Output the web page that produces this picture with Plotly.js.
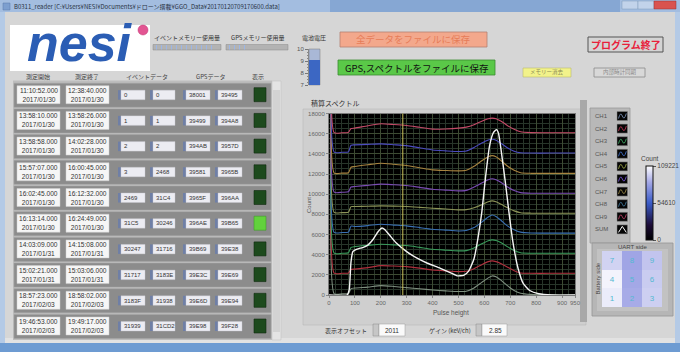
<!DOCTYPE html>
<html><head><meta charset="utf-8">
<script src="https://cdn.plot.ly/plotly-3.0.1.min.js"></script>
<style>html,body{margin:0;padding:0;background:#d6d6d6;overflow:hidden}#chart{width:680px;height:352px}</style>
</head><body><div id="chart"></div>
<script>
// ---------------- DATA ----------------
const channelNames = ['CH1','CH2','CH3','CH4','CH5','CH6','CH7','CH8','CH9'];
const sumName = 'SUM';
const channelX = [0,12,20,50,75,85,100,150,200,250,300,350,400,450,500,530,560,590,615,630,645,665,690,715,740,780,850,950];
const ch1 = [40000,40000,120,110,150,620,700,780,930,850,730,620,500,410,340,380,700,1250,1700,1890,1800,1450,900,450,180,60,10,0];
const ch2 = [40000,40000,150,140,180,520,560,700,900,860,800,650,470,380,310,340,600,1000,1300,1370,1300,1100,750,400,170,140,140,140];
const ch3 = [40000,40000,130,120,160,700,780,900,1010,950,880,700,510,420,350,380,650,1050,1350,1440,1380,1150,750,400,160,120,120,120];
const ch4 = [40000,40000,170,160,200,800,760,850,990,900,820,650,490,400,320,360,650,1200,1700,1900,1750,1350,800,450,200,120,100,100];
const ch5 = [40000,40000,140,130,160,720,730,760,790,770,730,650,560,480,400,420,600,900,1200,1290,1200,950,600,300,120,70,60,60];
const ch6 = [40000,40000,150,140,180,650,700,820,940,880,800,620,440,350,270,320,650,1050,1380,1470,1380,1100,650,300,100,40,40,40];
const ch7 = [40000,40000,30,20,60,600,680,850,1000,900,770,550,340,280,240,300,700,1250,1650,1760,1650,1250,700,300,60,0,0,0];
const ch8 = [40000,40000,90,80,120,780,810,860,910,830,740,520,310,220,150,200,550,1000,1300,1370,1280,950,500,180,30,0,0,0];
const ch9 = [40000,40000,10,0,40,420,460,700,890,820,720,540,360,380,460,560,800,1150,1400,1450,1400,1150,700,350,100,20,0,0];
const sumX = [0,70,78,85,92,100,115,130,150,170,190,205,215,235,260,300,340,380,430,470,495,520,540,560,575,590,605,620,635,647,655,665,680,695,710,730,750,775,810,860,950];
const sumY = [0,0,500,3300,4300,4450,4600,4700,4950,5500,6300,6650,6500,5900,5150,4300,3650,3150,2650,2200,1900,1950,2400,3600,5600,8200,11800,14800,16100,16400,16000,14300,11400,8200,5300,2650,1150,450,120,0,0];
const displayOffset = 2011;
const gainKeVperCh = 2.85;
const cursorX = 285;
const xTickVals = [0,100,200,300,400,500,600,700,800,900,950];
const yTickVals = [0,2000,4000,6000,8000,10000,12000,14000,16000,18000];

const heatZ = [[104000,86000,96000],[106000,85000,95000],[97000,84000,93000]];
const heatText = [['1','2','3'],['4','5','6'],['7','8','9']];
const colorbarTicks = [0,54610,109221];
const heatTitleTop = 'UART side';
const heatTitleSide = 'Battery side';

const batteryVoltage = 9.05;
const batteryTicks = [7,8,9,10];
const eventMemUsage = 89;
const gpsMemUsage = 30;

const tableHeaders = ['測定開始','測定終了','イベントデータ','GPSデータ','表示'];
const startTimes = ['11:10:52.000','13:58:10.000','13:58:58.000','15:57:07.000','16:02:45.000','16:13:14.000','14:03:09.000','15:02:21.000','18:57:23.000','19:46:53.000'];
const startDates = ['2017/01/30','2017/01/30','2017/01/30','2017/01/30','2017/01/30','2017/01/30','2017/01/31','2017/01/31','2017/02/03','2017/02/03'];
const endTimes = ['12:38:40.000','13:58:26.000','14:02:28.000','16:00:45.000','16:12:32.000','16:24:49.000','14:15:08.000','15:03:06.000','18:58:02.000','19:49:17.000'];
const endDates = ['2017/01/30','2017/01/30','2017/01/30','2017/01/30','2017/01/30','2017/01/30','2017/01/31','2017/01/31','2017/02/03','2017/02/03'];
const eventStart = ['0','1','2','3','2469','31C5','30247','31717','3183F','31939'];
const eventEnd = ['0','1','2','2468','31C4','30246','31716','3183E','31938','31CD2'];
const gpsStart = ['38001','39499','394AB','39581','3965F','396AE','39B69','39E3C','39E6D','39E98'];
const gpsEnd = ['39495','394A8','3957D','3965B','396AA','39B65','39E38','39E69','39E94','39F28'];
const ledOn = [0,0,0,0,0,1,0,0,0,0];

const windowTitle = 'B0311_reader [C:¥Users¥NESI¥Documents¥ドローン搭載¥GGO_Data¥20170120709170600.data]';

// ---------------- HELPERS ----------------
const W = 680, H = 352;
const X = p => p / W;
const Y = p => 1 - p / H;
const FJ = 'Noto Sans CJK JP, DejaVu Sans, sans-serif';
const FL = 'Liberation Sans, Arial, sans-serif';
const shapes = [];
const ann = [];
function R(x0, y0, x1, y1, fill, line, lw, layer) {
  shapes.push({type:'rect', xref:'paper', yref:'paper', x0:X(x0), x1:X(x1), y0:Y(y1), y1:Y(y0),
    fillcolor:fill, line:{color:line || fill, width: line ? (lw || 1) : 0}, layer: layer || 'below'});
}
function T(x, y, s, o) {
  o = o || {};
  ann.push(Object.assign({xref:'paper', yref:'paper', x:X(x), y:Y(y), text:s, showarrow:false,
    xanchor:o.xa || 'center', yanchor:o.ya || 'middle', borderpad:0,
    font:{family:o.f || FJ, size:o.sz || 7, color:o.c || '#333'}}, o.extra || {}));
}
function P(pts) {
  return pts.map(p => X(p[0]).toFixed(5) + ',' + Y(p[1]).toFixed(5)).join(' ');
}

// ---------------- WINDOW CHROME ----------------
R(0, 0, 680, 12, '#a3bde0');
R(330, 0, 620, 12, '#86a7d3');
R(0, 12, 5, 352, '#b4cae6');
R(675, 12, 680, 352, '#b4cae6');
R(3, 3, 10, 10, '#7d9fcf', '#5a7aa8', 0.5);
T(13, 6, windowTitle, {xa:'left', sz:6, c:'#2a3344'});
R(622, 1, 638, 9, '#c2d3ea', '#7f98bb', 0.5);
R(638, 1, 654, 9, '#c2d3ea', '#7f98bb', 0.5);
R(654, 1, 676, 9, '#d9534f', '#9a3030', 0.5);
R(0, 343, 680, 352, '#6d9bd2');
R(5, 338, 675, 343, '#e2e2e2');

// ---------------- LOGO ----------------
R(10, 25, 150, 71, '#ffffff');
T(80, 42.5, '<b><i>nesi</i></b>', {f:FL, sz:52, c:'#2b5db4'});
shapes.push({type:'circle', xref:'paper', yref:'paper', x0:X(138), x1:X(148), y0:Y(35), y1:Y(25),
  fillcolor:'#e25592', line:{color:'#c03070', width:0.5}, layer:'above'});

// ---------------- MEMORY / BATTERY ----------------
T(187, 38, 'イベントメモリー使用量', {sz:6});
T(257, 38, 'GPSメモリー使用量', {sz:6});
T(314, 38, '電池電圧', {sz:6});
R(153, 44.5, 221, 50, '#b3b3b3', '#8a8a8a', 0.5);
R(226, 44.5, 288, 50, '#b3b3b3', '#8a8a8a', 0.5);
R(309, 49, 320, 85, '#a9b8d6', '#7a7a7a', 0.5);

// ---------------- BUTTONS ----------------
R(340, 32, 487, 47, '#f3a88c', '#b48272', 0.8);
T(413.5, 39.5, '全データをファイルに保存', {sz:9.5, c:'#e67c58'});
R(338, 60, 495, 75, '#5ac848', '#3a8a30', 0.8);
T(416.5, 67.5, 'GPS,スペクトルをファイルに保存', {sz:9.5, c:'#111'});
R(588, 37, 663, 52, '#d4d4d4', '#555555', 1);
T(625.5, 44.5, '<b>プログラム終了</b>', {sz:10, c:'#e8203a'});
R(523, 68, 571, 77, '#f2f28a', '#b8b870', 0.6);
T(547, 72.5, 'メモリー消去', {sz:5.5, c:'#8a8a55'});
R(594, 68, 645, 77, '#d8d8d8', '#8a8a8a', 0.8);
T(619.5, 72.5, '内部時計同期', {sz:5.5, c:'#8a8a8a'});

// ---------------- TABLE ----------------
const headerX = [38, 87, 147, 210, 258];
tableHeaders.forEach((h, i) => T(headerX[i], 76.5, h, {sz:6, c:'#444'}));
R(13, 80.5, 272, 340, '#bdbdbd');
R(272, 81, 281, 340, '#e4e4e4', '#bdbdbd', 0.5);
R(273, 90, 280, 332, '#d3d3d3');
for (let k = 0; k < startTimes.length; k++) {
  const t = 82.7 + k * 25.7;
  R(14, t + 0.5, 271, t + 24.5, '#8c8c8c', '#a6a6a6', 0.5);
  R(17, t + 3, 60, t + 21, '#f6f6f6', '#cfcfcf', 0.5);
  R(66, t + 3, 109, t + 21, '#f6f6f6', '#cfcfcf', 0.5);
  T(38.5, t + 12, startTimes[k] + '<br>' + startDates[k], {f:FL, sz:6.6, c:'#333'});
  T(87.5, t + 12, endTimes[k] + '<br>' + endDates[k], {f:FL, sz:6.6, c:'#333'});
  const boxes = [[118, 145, eventStart[k]], [150, 175, eventEnd[k]], [183, 210, gpsStart[k]], [215, 242, gpsEnd[k]]];
  boxes.forEach(b => {
    R(b[0], t + 7.5, b[0] + 3, t + 17, '#6f7fa6');
    R(b[0] + 3, t + 7.5, b[1], t + 17, '#ececf2', '#c8c8d0', 0.4);
    T(b[0] + 5, t + 12.3, b[2], {f:FL, sz:6, c:'#333', xa:'left'});
  });
  R(254, t + 5, 266, t + 19, ledOn[k] ? '#62d23c' : '#1d4a1d', ledOn[k] ? '#3f9a2a' : '#0f2a0f', 0.6);
}

// ---------------- CHART PANEL ----------------
R(303, 109, 586, 325, '#cfcfcf', '#b0b0b0', 0.5);
R(580, 100, 587, 322, '#a8a8a8');
R(329, 113.5, 575, 295, '#000000');
T(310, 103, '積算スペクトル', {xa:'left', sz:7, c:'#333'});
T(309, 205, 'Count', {f:FL, sz:6, c:'#555', extra:{textangle:-90}});
T(451, 313, 'Pulse height', {f:FL, sz:6.5, c:'#555'});

// legend panel
const lineColors = ['#7f8f80','#b0303e','#3a9c5c','#3a70b4','#8c9458','#7a4cb4','#a88440','#4c4cc0','#c44a68'];
const iconColors = ['#6a7fa0','#a8304a','#3a9a5a','#3a64b4','#8a9440','#6a4cc0','#8a7a40','#3a6a8a','#a83a5a'];
R(590, 108, 630, 243, '#b8b8b8', '#9a9a9a', 0.8);
const legNames = channelNames.concat([sumName]);
legNames.forEach((n, k) => {
  const yc = 116 + k * 12.6;
  T(594, yc, n, {f:FL, sz:6, c:'#555', xa:'left'});
  R(617, yc - 4.5, 627.5, yc + 4.5, '#050505', '#8a8a8a', 0.5);
  const col = k < 9 ? iconColors[k] : '#ffffff';
  const path = k < 9
    ? 'M ' + P([[618.5, yc + 2.5]]) + ' Q ' + P([[620.5, yc - 5], [622.3, yc]]) + ' Q ' + P([[624.2, yc + 5], [626.3, yc - 2.5]])
    : 'M ' + P([[618.5, yc + 3]]) + ' L ' + P([[622.3, yc - 3]]) + ' L ' + P([[626.3, yc + 3]]);
  shapes.push({type:'path', xref:'paper', yref:'paper', path:path, line:{color:col, width:1}, layer:'above'});
});

// heatmap panel
R(592, 243, 673, 316, '#b6b6b6', '#959595', 0.8);
R(597, 249, 668, 311, '#c2c2c2');
T(632, 246.5, heatTitleTop, {f:FL, sz:6, c:'#444'});
T(597.5, 279, heatTitleSide, {f:FL, sz:6, c:'#444', extra:{textangle:-90}});
T(650, 158, 'Count', {f:FL, sz:6.5, c:'#444'});

// bottom controls
T(346, 330, '表示オフセット', {sz:6, c:'#333'});
R(373, 324, 379, 336, '#c6c6c6', '#888', 0.5);
R(379, 324, 405, 336, '#fafafa', '#9a9a9a', 0.5);
T(392, 330, String(displayOffset), {f:FL, sz:6.5, c:'#333'});
T(450, 330, 'ゲイン (keV/ch)', {sz:6, c:'#333'});
R(476, 324, 482, 336, '#c6c6c6', '#888', 0.5);
R(482, 324, 507, 336, '#fafafa', '#9a9a9a', 0.5);
T(495, 330, gainKeVperCh.toFixed(2), {f:FL, sz:6.5, c:'#333'});

// cursor
shapes.push({type:'line', xref:'x', yref:'paper', x0:cursorX, x1:cursorX, y0:Y(295), y1:Y(113.5),
  line:{color:'#c9c25a', width:1}, layer:'above'});

// ---------------- TRACES ----------------
const chData = [ch1, ch2, ch3, ch4, ch5, ch6, ch7, ch8, ch9];
const traces = chData.map((d, i) => ({
  type:'scatter', mode:'lines', name:channelNames[i], x:channelX,
  y:d.map(v => v + i * displayOffset), line:{color:lineColors[i], width:1.1, shape:'spline', smoothing:0.6},
  showlegend:false, hoverinfo:'skip'
}));
traces.push({type:'scatter', mode:'lines', name:sumName, x:sumX, y:sumY,
  line:{color:'#f4f4f4', width:1.4, shape:'spline', smoothing:0.5}, showlegend:false, hoverinfo:'skip'});

traces.push({type:'heatmap', z:heatZ, text:heatText, texttemplate:'%{text}',
  textfont:{color:'#52b9d2', size:8, family:FL},
  colorscale:[[0,'#000000'],[0.2,'#1c0c36'],[0.5,'#3a5cc8'],[0.78,'#a4a8e6'],[1,'#ffffff']],
  zmin:0, zmax:109221, xaxis:'x2', yaxis:'y2', hoverinfo:'skip',
  colorbar:{x:X(646), xanchor:'left', xpad:0, ypad:0, y:Y(203), yanchor:'middle',
    len:74, lenmode:'pixels', thickness:7, thicknessmode:'pixels',
    outlinecolor:'#111', outlinewidth:1, tickvals:colorbarTicks, ticktext:colorbarTicks.map(String),
    ticks:'outside', ticklen:3, tickcolor:'#555', tickfont:{family:FL, size:6.5, color:'#444'}}});

traces.push({type:'bar', x:[0], y:[batteryVoltage], width:[1], xaxis:'x3', yaxis:'y3',
  marker:{color:'#3c67c3', line:{width:0}}, hoverinfo:'skip', showlegend:false});
traces.push({type:'bar', orientation:'h', x:[eventMemUsage], y:[0], width:[1], xaxis:'x4', yaxis:'y4',
  marker:{color:'#2d5fc2', line:{width:0}, pattern:{shape:'|', fgcolor:'#9bb6e6', size:5, solidity:0.2}},
  hoverinfo:'skip', showlegend:false});
traces.push({type:'bar', orientation:'h', x:[gpsMemUsage], y:[0], width:[1], xaxis:'x5', yaxis:'y5',
  marker:{color:'#2d5fc2', line:{width:0}, pattern:{shape:'|', fgcolor:'#9bb6e6', size:5, solidity:0.2}},
  hoverinfo:'skip', showlegend:false});

const hidden = {visible:false, fixedrange:true};
const layout = {
  width:W, height:H, margin:{l:0, r:0, t:0, b:0},
  paper_bgcolor:'#d6d6d6', plot_bgcolor:'rgba(0,0,0,0)', showlegend:false,
  xaxis:{domain:[X(329), X(575)], range:[0, 950], tickvals:xTickVals, ticktext:xTickVals.map(String),
    tickfont:{family:FL, size:6, color:'#666'}, ticks:'outside', ticklen:2, tickcolor:'#888',
    showgrid:true, gridcolor:'#3d4b33', gridwidth:1,
    minor:{dtick:25, tick0:0, showgrid:true, gridcolor:'#28352a', gridwidth:1},
    zeroline:false, showline:true, linecolor:'#7a7a7a', mirror:true, fixedrange:true, anchor:'y'},
  yaxis:{domain:[Y(295), Y(113.5)], range:[0, 18000], tickvals:yTickVals, ticktext:yTickVals.map(String),
    tickfont:{family:FL, size:6, color:'#666'}, ticks:'outside', ticklen:2, tickcolor:'#888',
    showgrid:true, gridcolor:'#3d4b33', gridwidth:1,
    minor:{dtick:500, tick0:0, showgrid:true, gridcolor:'#28352a', gridwidth:1},
    zeroline:false, showline:true, linecolor:'#7a7a7a', mirror:true, fixedrange:true, anchor:'x'},
  xaxis2:Object.assign({domain:[X(602), X(662)], range:[-0.5, 2.5], anchor:'y2'}, hidden),
  yaxis2:Object.assign({domain:[Y(307), Y(251)], range:[-0.5, 2.5], anchor:'x2'}, hidden),
  xaxis3:Object.assign({domain:[X(309), X(320)], range:[-0.5, 0.5], anchor:'y3'}, hidden),
  yaxis3:{domain:[Y(85), Y(49)], range:[7, 10], anchor:'x3', tickvals:batteryTicks,
    ticks:'outside', ticklen:3, tickcolor:'#777', tickfont:{family:FL, size:6, color:'#555'},
    minor:{ticks:'outside', ticklen:1.5, dtick:0.25, tickcolor:'#888'},
    showgrid:false, zeroline:false, showline:true, linecolor:'#888', fixedrange:true},
  xaxis4:Object.assign({domain:[X(154), X(220)], range:[0, 100], anchor:'y4'}, hidden),
  yaxis4:Object.assign({domain:[Y(49.5), Y(45)], range:[-0.5, 0.5], anchor:'x4'}, hidden),
  xaxis5:Object.assign({domain:[X(227), X(287)], range:[0, 100], anchor:'y5'}, hidden),
  yaxis5:Object.assign({domain:[Y(49.5), Y(45)], range:[-0.5, 0.5], anchor:'x5'}, hidden),
  bargap:0,
  shapes:shapes, annotations:ann
};
Plotly.newPlot('chart', traces, layout, {staticPlot:true, displayModeBar:false});
</script></body></html>
